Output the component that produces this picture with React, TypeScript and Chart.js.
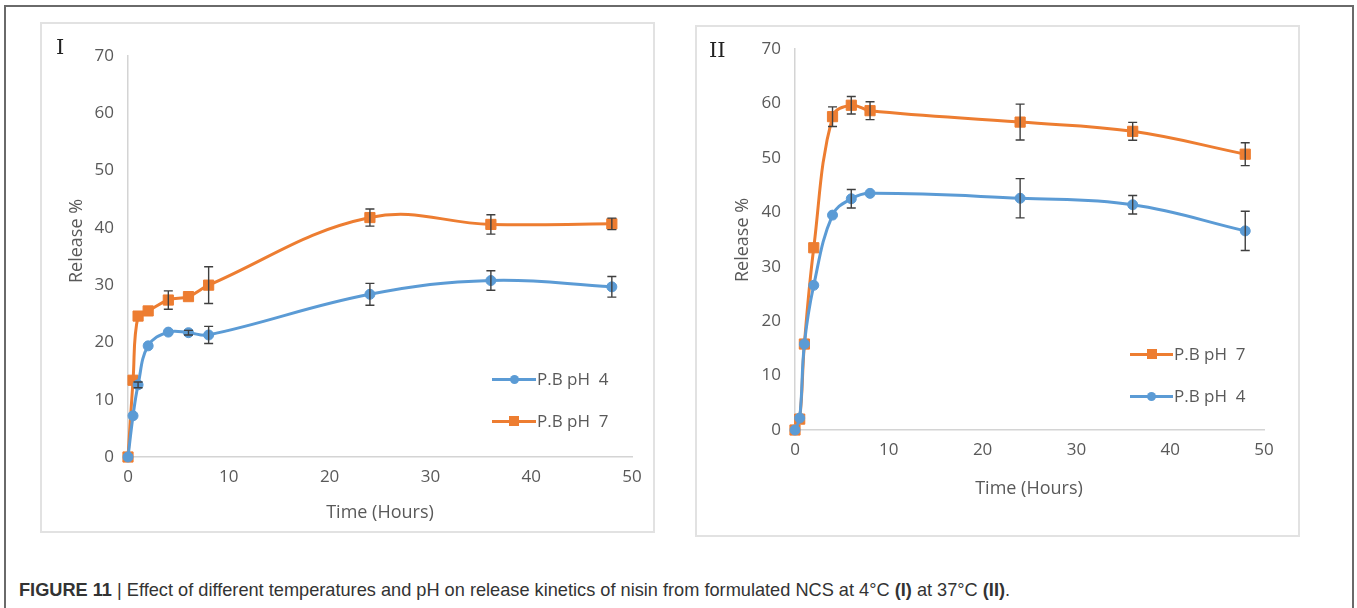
import React, { useEffect, useRef } from "react";
import { Chart, registerables } from "chart.js";

Chart.register(...registerables);

// ---------- data ----------
const hours = [0, 0.5, 1, 2, 4, 6, 8, 24, 36, 48];

// Panel I (4 °C)
const p1Ph4 = [0, 7.2, 12.6, 19.4, 21.8, 21.7, 21.3, 28.4, 30.8, 29.7];
const p1Ph4Err = [0, 0, 0.5, 0, 0, 0.4, 1.5, 1.9, 1.7, 1.8];
const p1Ph7 = [0, 13.4, 24.6, 25.5, 27.4, 28.0, 30.0, 41.8, 40.6, 40.7];
const p1Ph7Err = [0, 0, 0, 0, 1.6, 0, 3.2, 1.5, 1.7, 1.0];

// Panel II (37 °C)
const p2Ph4 = [0, 2.2, 15.8, 26.6, 39.5, 42.5, 43.5, 42.6, 41.4, 36.6];
const p2Ph4Err = [0, 0, 0, 0, 0, 1.7, 0, 3.6, 1.7, 3.6];
const p2Ph7 = [0, 2.0, 15.8, 33.5, 57.6, 59.7, 58.7, 56.6, 54.9, 50.7];
const p2Ph7Err = [0, 0, 0, 0, 1.8, 1.6, 1.65, 3.3, 1.65, 2.1];

const xTickValues = [0, 10, 20, 30, 40, 50];
const yTickValues = [0, 10, 20, 30, 40, 50, 60, 70];

const labelPh4 = "P.B pH  4";
const labelPh7 = "P.B pH  7";
const xTitle = "Time (Hours)";
const yTitle = "Release %";

// ---------- style ----------
const BLUE = "#5B9BD5";
const ORANGE = "#ED7D31";
const TEXT = "#595959";
const FONT = "'Open Sans', 'DejaVu Sans', sans-serif";
const TICK_SIZE = 17;
const TITLE_SIZE = 18;
const LEG_SIZE = 17;

const errorBarPlugin = {
  id: "errorBars",
  afterDatasetsDraw(chart: any) {
    const ctx = chart.ctx;
    const xs = chart.scales.x;
    const ys = chart.scales.y;
    chart.data.datasets.forEach((ds: any) => {
      const errs: number[] | undefined = ds.errors;
      if (!errs) return;
      ds.data.forEach((pt: any, j: number) => {
        const e = errs[j];
        if (!e) return;
        const px = xs.getPixelForValue(pt.x);
        const top = ys.getPixelForValue(pt.y + e);
        const bot = ys.getPixelForValue(pt.y - e);
        ctx.save();
        ctx.strokeStyle = "#3f3f3f";
        ctx.lineWidth = 1.4;
        ctx.beginPath();
        ctx.moveTo(px, top);
        ctx.lineTo(px, bot);
        ctx.moveTo(px - 4.5, top);
        ctx.lineTo(px + 4.5, top);
        ctx.moveTo(px - 4.5, bot);
        ctx.lineTo(px + 4.5, bot);
        ctx.stroke();
        ctx.restore();
      });
    });
  },
};

type Series = { label: string; values: number[]; errors: number[]; color: string; style: "circle" | "rect" };

type PanelCfg = {
  left: number;
  top: number;
  w: number;
  h: number;
  areaL: number;
  areaR: number;
  areaT: number;
  areaB: number;
  series: Series[];
};

function buildConfig(p: PanelCfg): any {
  const tickFont = { family: FONT, size: TICK_SIZE };
  return {
    type: "line",
    data: {
      datasets: p.series.map((s) => ({
        label: s.label,
        data: hours.map((x, i) => ({ x, y: s.values[i] })),
        errors: s.errors,
        borderColor: s.color,
        backgroundColor: s.color,
        pointBackgroundColor: s.color,
        pointBorderColor: s.color,
        pointStyle: s.style,
        pointRadius: s.style === "rect" ? 7.2 : 5,
        pointBorderWidth: 1,
        borderWidth: 3,
        tension: 0.4,
        fill: false,
        clip: false,
      })),
    },
    options: {
      animation: false,
      responsive: false,
      maintainAspectRatio: false,
      layout: {
        padding: { left: 0, top: p.areaT - p.top, right: p.left + p.w - p.areaR, bottom: 0 },
      },
      plugins: { legend: { display: false }, tooltip: { enabled: false } },
      scales: {
        x: {
          type: "linear",
          min: 0,
          max: 50,
          afterBuildTicks: (s: any) => {
            s.ticks = xTickValues.map((v) => ({ value: v }));
          },
          ticks: { color: TEXT, font: tickFont, padding: 10 },
          grid: { display: false, drawTicks: false },
          border: { display: true, color: "#d4d4d4", width: 1.5 },
          afterFit: (s: any) => {
            s.height = p.top + p.h - p.areaB;
          },
        },
        y: {
          type: "linear",
          min: 0,
          max: 70,
          afterBuildTicks: (s: any) => {
            s.ticks = yTickValues.map((v) => ({ value: v }));
          },
          ticks: { color: TEXT, font: tickFont, padding: 14 },
          grid: { display: false, drawTicks: false },
          border: { display: true, color: "#d4d4d4", width: 1.5 },
          afterFit: (s: any) => {
            s.width = p.areaL - p.left;
          },
        },
      },
    },
    plugins: [errorBarPlugin],
  };
}

function ChartCanvas({ cfg }: { cfg: PanelCfg }) {
  const ref = useRef<HTMLCanvasElement | null>(null);
  useEffect(() => {
    if (!ref.current) return;
    const chart = new Chart(ref.current, buildConfig(cfg));
    return () => chart.destroy();
  }, []);
  return (
    <canvas
      ref={ref}
      width={cfg.w}
      height={cfg.h}
      style={{ position: "absolute", left: cfg.left, top: cfg.top, width: cfg.w, height: cfg.h }}
    />
  );
}

function LegendItem({ x1, x2, y, color, marker, text }: { x1: number; x2: number; y: number; color: string; marker: "circle" | "rect"; text: string }) {
  const mid = (x1 + x2) / 2;
  const ms = marker === "rect" ? 10 : 9;
  return (
    <>
      <div style={{ position: "absolute", left: x1, top: y - 1.5, width: x2 - x1, height: 3, background: color }} />
      <div
        style={{
          position: "absolute",
          left: mid - ms / 2,
          top: y - ms / 2,
          width: ms,
          height: ms,
          background: color,
          borderRadius: marker === "circle" ? "50%" : 0,
        }}
      />
      <div
        style={{
          position: "absolute",
          left: x2 + 1,
          top: y - 12,
          height: 24,
          lineHeight: "24px",
          fontFamily: FONT,
          fontSize: LEG_SIZE,
          color: TEXT,
          whiteSpace: "pre",
        }}
      >
        {text}
      </div>
    </>
  );
}

function AxisTitle({ cx, cy, text, vertical }: { cx: number; cy: number; text: string; vertical?: boolean }) {
  return (
    <div
      style={{
        position: "absolute",
        left: cx,
        top: cy,
        transform: `translate(-50%, -50%)${vertical ? " rotate(-90deg)" : ""}`,
        fontFamily: FONT,
        fontSize: TITLE_SIZE,
        lineHeight: "22px",
        color: TEXT,
        whiteSpace: "nowrap",
      }}
    >
      {text}
    </div>
  );
}

const panel1: PanelCfg = {
  left: 40,
  top: 22,
  w: 615,
  h: 511,
  areaL: 128,
  areaR: 632,
  areaT: 56,
  areaB: 457,
  series: [
    { label: labelPh4, values: p1Ph4, errors: p1Ph4Err, color: BLUE, style: "circle" },
    { label: labelPh7, values: p1Ph7, errors: p1Ph7Err, color: ORANGE, style: "rect" },
  ],
};

const panel2: PanelCfg = {
  left: 695,
  top: 25,
  w: 605,
  h: 512,
  areaL: 795,
  areaR: 1264,
  areaT: 49,
  areaB: 430,
  series: [
    { label: labelPh4, values: p2Ph4, errors: p2Ph4Err, color: BLUE, style: "circle" },
    { label: labelPh7, values: p2Ph7, errors: p2Ph7Err, color: ORANGE, style: "rect" },
  ],
};

export default function App() {
  return (
    <div style={{ position: "absolute", left: 0, top: 0, width: 1357, height: 608, background: "#fff", overflow: "hidden" }}>
      <div
        style={{
          position: "absolute",
          left: 4,
          top: 5,
          width: 1346,
          height: 620,
          borderLeft: "2px solid #6a6a6a",
          borderTop: "2px solid #6a6a6a",
          borderRight: "2px solid #6a6a6a",
        }}
      />
      <div style={{ position: "absolute", left: 40, top: 22, width: 615, height: 511, border: "2px solid #e2e2e2", boxSizing: "border-box" }} />
      <div style={{ position: "absolute", left: 695, top: 25, width: 605, height: 512, border: "2px solid #e2e2e2", boxSizing: "border-box" }} />
      <ChartCanvas cfg={panel1} />
      <ChartCanvas cfg={panel2} />
      <AxisTitle cx={75} cy={241} text={yTitle} vertical />
      <AxisTitle cx={380} cy={511} text={xTitle} />
      <AxisTitle cx={741} cy={240} text={yTitle} vertical />
      <AxisTitle cx={1029} cy={487} text={xTitle} />
      <div style={{ position: "absolute", left: 56, top: 33, fontFamily: "'DejaVu Serif', serif", fontSize: 21, lineHeight: "28px", color: "#222" }}>I</div>
      <div style={{ position: "absolute", left: 709, top: 36, fontFamily: "'DejaVu Serif', serif", fontSize: 21, lineHeight: "28px", color: "#222" }}>II</div>
      <LegendItem x1={492} x2={536} y={379} color={BLUE} marker="circle" text={labelPh4} />
      <LegendItem x1={492} x2={536} y={421} color={ORANGE} marker="rect" text={labelPh7} />
      <LegendItem x1={1130} x2={1173} y={354} color={ORANGE} marker="rect" text={labelPh7} />
      <LegendItem x1={1130} x2={1173} y={396} color={BLUE} marker="circle" text={labelPh4} />
      <div
        style={{
          position: "absolute",
          left: 19,
          top: 579,
          fontFamily: "'Liberation Sans', Arial, sans-serif",
          fontSize: 18.2,
          lineHeight: "22px",
          color: "#333",
          whiteSpace: "nowrap",
        }}
      >
        <b>FIGURE 11</b> | Effect of different temperatures and pH on release kinetics of nisin from formulated NCS at 4°C <b>(I)</b> at 37°C <b>(II)</b>.
      </div>
    </div>
  );
}
